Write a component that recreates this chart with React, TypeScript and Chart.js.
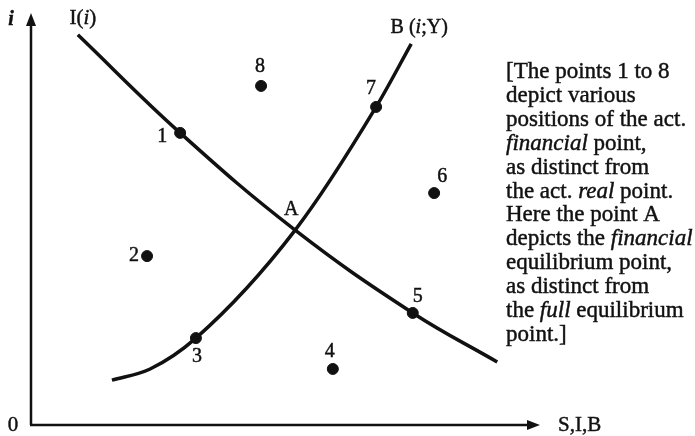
import { useEffect, useRef } from "react";
import { Chart, registerables } from "chart.js";

Chart.register(...registerables);

// ---- data (arbitrary units: x = S,I,B ; y = i) ----
const X_MAX = 10;
const Y_MAX = 10;

const pointLabels = ["1", "2", "3", "4", "5", "6", "7", "8"];
const pointX = [2.93, 2.28, 3.24, 5.93, 7.5, 7.92, 6.78, 4.52];
const pointY = [7.09, 4.1, 2.11, 1.36, 2.72, 5.63, 7.72, 8.23];

const equilibriumLabel = "A";
const equilibriumX = 5.19;
const equilibriumY = 4.73;

// I(i) curve
const investX = [0.92, 2.93, 5.19, 7.5, 9.16];
const investY = [9.47, 7.09, 4.73, 2.72, 1.53];

// B(i;Y) curve
const bondX = [1.59, 2.34, 3.24, 5.19, 6.78, 7.47];
const bondY = [1.09, 1.36, 2.11, 4.73, 7.72, 9.25];

const axisLabelX = "S,I,B";
const axisLabelY = "i";
const originLabel = "0";

type Seg = { t: string; i?: boolean };

const investLabel: Seg[] = [{ t: "I(" }, { t: "i", i: true }, { t: ")" }];
const bondLabel: Seg[] = [{ t: "B (" }, { t: "i", i: true }, { t: ";Y)" }];

const noteLines: Seg[][] = [
  [{ t: "[The points 1 to 8" }],
  [{ t: "depict various" }],
  [{ t: "positions of the act." }],
  [{ t: "financial", i: true }, { t: " point," }],
  [{ t: "as distinct from" }],
  [{ t: "the act. " }, { t: "real", i: true }, { t: " point." }],
  [{ t: "Here the point A" }],
  [{ t: "depicts the " }, { t: "financial", i: true }],
  [{ t: "equilibrium point," }],
  [{ t: "as distinct from" }],
  [{ t: "the " }, { t: "full", i: true }, { t: " equilibrium" }],
  [{ t: "point.]" }],
];

// label offsets in pixels from each point (styling)
const labelOffsets: [number, number][] = [
  [-18, 4],
  [-13, 0],
  [1, 19],
  [-3, -17],
  [5, -16],
  [8, -16],
  [-5, -18],
  [-1, -19],
];
const equilibriumOffset: [number, number] = [-4, -20];

const FONT = '"Liberation Serif", "Times New Roman", serif';
const INK = "#111";

function drawRich(ctx: CanvasRenderingContext2D, segs: Seg[], x: number, y: number, size: number, align: "left" | "center" = "left") {
  let total = 0;
  for (const s of segs) {
    ctx.font = `${s.i ? "italic " : ""}${size}px ${FONT}`;
    total += ctx.measureText(s.t).width;
  }
  let cx = align === "center" ? x - total / 2 : x;
  ctx.textAlign = "left";
  for (const s of segs) {
    ctx.font = `${s.i ? "italic " : ""}${size}px ${FONT}`;
    ctx.fillText(s.t, cx, y);
    ctx.strokeText(s.t, cx, y);
    cx += ctx.measureText(s.t).width;
  }
}

function drawText(ctx: CanvasRenderingContext2D, t: string, x: number, y: number) {
  ctx.fillText(t, x, y);
  ctx.strokeText(t, x, y);
}

const axesPlugin = {
  id: "axesPlugin",
  beforeDatasetsDraw(chart: any) {
    const { ctx, scales } = chart;
    const x = scales.x;
    const y = scales.y;
    const x0 = x.getPixelForValue(0);
    const y0 = y.getPixelForValue(0);
    const x1 = x.getPixelForValue(X_MAX);
    const y1 = y.getPixelForValue(Y_MAX);
    ctx.save();
    ctx.strokeStyle = INK;
    ctx.fillStyle = INK;
    ctx.lineWidth = 2.5;
    ctx.beginPath();
    ctx.moveTo(x0, y0);
    ctx.lineTo(x0, y1 + 10);
    ctx.moveTo(x0 - 1, y0);
    ctx.lineTo(x1 - 10, y0);
    ctx.stroke();
    // arrowheads
    ctx.beginPath();
    ctx.moveTo(x0, y1);
    ctx.lineTo(x0 - 5, y1 + 13);
    ctx.lineTo(x0 + 5, y1 + 13);
    ctx.closePath();
    ctx.fill();
    ctx.beginPath();
    ctx.moveTo(x1, y0);
    ctx.lineTo(x1 - 13, y0 - 5);
    ctx.lineTo(x1 - 13, y0 + 5);
    ctx.closePath();
    ctx.fill();
    ctx.restore();
  },
  afterDatasetsDraw(chart: any) {
    const { ctx, scales } = chart;
    const x = scales.x;
    const y = scales.y;
    const x0 = x.getPixelForValue(0);
    const y0 = y.getPixelForValue(0);
    const x1 = x.getPixelForValue(X_MAX);
    const y1 = y.getPixelForValue(Y_MAX);
    ctx.save();
    ctx.fillStyle = INK;
    ctx.strokeStyle = INK;
    ctx.lineWidth = 0.45;
    ctx.textBaseline = "middle";

    // axis labels
    ctx.font = `italic bold 20px ${FONT}`;
    ctx.textAlign = "center";
    drawText(ctx, axisLabelY, x0 - 20, y1 + 7);
    ctx.font = `21px ${FONT}`;
    drawText(ctx, originLabel, x0 - 18, y0);
    ctx.textAlign = "left";
    drawText(ctx, axisLabelX, x1 + 18, y0);

    // curve labels
    const ix = x.getPixelForValue(investX[0]);
    const iy = y.getPixelForValue(investY[0]);
    drawRich(ctx, investLabel, ix + 5, iy - 16, 21, "center");
    const bx = x.getPixelForValue(bondX[bondX.length - 1]);
    const by = y.getPixelForValue(bondY[bondY.length - 1]);
    drawRich(ctx, bondLabel, bx + 8, by - 16, 20, "center");

    // point labels
    ctx.font = `20px ${FONT}`;
    ctx.textAlign = "center";
    pointLabels.forEach((lab, k) => {
      const px = x.getPixelForValue(pointX[k]);
      const py = y.getPixelForValue(pointY[k]);
      drawText(ctx, lab, px + labelOffsets[k][0], py + labelOffsets[k][1]);
    });
    const ax = x.getPixelForValue(equilibriumX);
    const ay = y.getPixelForValue(equilibriumY);
    drawText(ctx, equilibriumLabel, ax + equilibriumOffset[0], ay + equilibriumOffset[1]);

    // note
    const left = chart.chartArea.right - 34;
    noteLines.forEach((segs, k) => {
      drawRich(ctx, segs, left, 72 + k * 23.9, 23, "left");
    });
    ctx.restore();
  },
};

export default function App() {
  const ref = useRef<HTMLCanvasElement | null>(null);
  useEffect(() => {
    if (!ref.current) return;
    const chart = new Chart(ref.current, {
      type: "scatter",
      data: {
        datasets: [
          {
            type: "line",
            label: "I(i)",
            data: investX.map((v, k) => ({ x: v, y: investY[k] })),
            borderColor: INK,
            borderWidth: 3.5,
            pointRadius: 0,
            tension: 0.4,
            fill: false,
          } as any,
          {
            type: "line",
            label: "B(i;Y)",
            data: bondX.map((v, k) => ({ x: v, y: bondY[k] })),
            borderColor: INK,
            borderWidth: 3.5,
            pointRadius: 0,
            cubicInterpolationMode: "monotone",
            fill: false,
          } as any,
          {
            label: "points",
            data: pointX.map((v, k) => ({ x: v, y: pointY[k] })),
            backgroundColor: INK,
            borderColor: INK,
            pointRadius: 5.5,
            showLine: false,
          },
        ],
      },
      options: {
        animation: false,
        responsive: false,
        devicePixelRatio: 1,
        layout: { padding: { left: 31, right: 155, top: 13, bottom: 11 } },
        plugins: { legend: { display: false }, tooltip: { enabled: false } },
        scales: {
          x: { type: "linear", min: 0, max: X_MAX, display: false },
          y: { type: "linear", min: 0, max: Y_MAX, display: false },
        },
      },
      plugins: [axesPlugin],
    });
    return () => chart.destroy();
  }, []);
  return (
    <div style={{ position: "fixed", left: 0, top: 0, width: 695, height: 436, background: "#fff" }}>
      <canvas ref={ref} width={695} height={436} />
    </div>
  );
}
